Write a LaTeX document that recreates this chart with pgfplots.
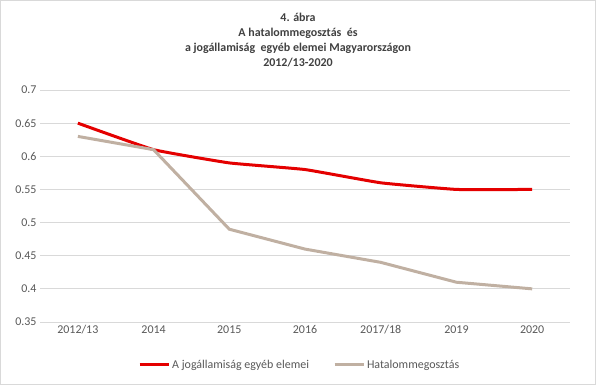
\documentclass[border=0pt]{standalone}
\usepackage{pgfplots}
\pgfplotsset{compat=1.18}
\usepackage{fontspec}
\setmainfont{Carlito}
\definecolor{redl}{RGB}{228,0,0}
\definecolor{tanl}{RGB}{192,176,162}
\definecolor{gridc}{RGB}{217,217,217}
\definecolor{txt}{RGB}{89,89,89}
\definecolor{ttl}{RGB}{64,64,64}
\begin{document}
\begin{tikzpicture}[x=1bp,y=1bp]
\path[draw=gridc, line width=1bp] (0.5,0.5) rectangle (595.5,384.5);
\begin{axis}[
  at={(40bp,63bp)}, anchor=south west,
  scale only axis, width=530bp, height=232bp,
  xmin=-0.5, xmax=6.5, ymin=0.35, ymax=0.7,
  xtick={0,1,2,3,4,5,6},
  xticklabels={2012/13,2014,2015,2016,2017/18,2019,2020},
  ytick={0.35,0.4,0.45,0.5,0.55,0.6,0.65,0.7},
  yticklabels={0.35,0.4,0.45,0.5,0.55,0.6,0.65,0.7},
  /pgf/number format/assume math mode=true,
  ticklabel style={font=\fontsize{12}{14}\selectfont, text=txt},
  axis line style={draw=none},
  major tick length=0pt,
  ymajorgrids, grid style={gridc, line width=0.75bp},
  legend style={at={(axis description cs:0.49,-0.185)}, anchor=center, draw=none,
    font=\fontsize{12}{14}\selectfont, text=txt, legend columns=2,
    /tikz/every even column/.append style={column sep=22bp}},
  legend image code/.code={\draw[#1, line width=3bp] (0bp,0bp) -- (29bp,0bp);},
]
\addplot[redl, line width=3bp, smooth, tension=0.2] coordinates {(0,0.65) (1,0.61) (2,0.59) (3,0.58) (4,0.56) (5,0.55) (6,0.55)};
\addlegendentry{A jogállamiság egyéb elemei}
\addplot[tanl, line width=3bp] coordinates {(0,0.63) (1,0.61) (2,0.49) (3,0.46) (4,0.44) (5,0.41) (6,0.40)};
\addlegendentry{Hatalommegosztás}
\addplot[gridc, line width=0.75bp, forget plot] coordinates {(-0.5,0.35) (6.5,0.35)};
\end{axis}
\begin{scope}[every node/.style={anchor=base, text=ttl, font=\bfseries\fontsize{12}{14}\selectfont, inner sep=0pt}]
\node at (298,364) {4. ábra};
\node at (298,349) {A hatalommegosztás\ \ és};
\node at (298,334) {a jogállamiság\ \ egyéb elemei Magyarországon};
\node at (298,319) {2012/13-2020};
\end{scope}
\end{tikzpicture}
\end{document}
